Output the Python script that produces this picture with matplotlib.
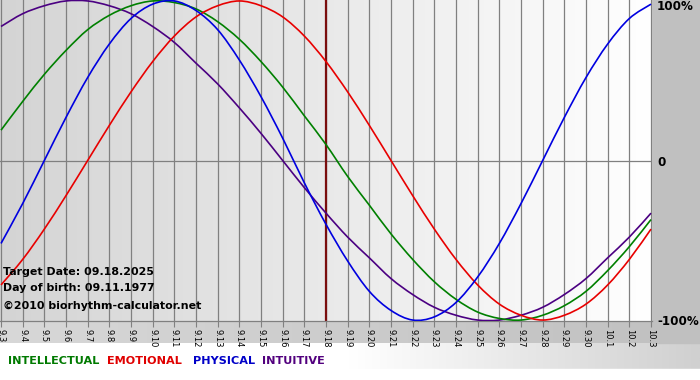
import matplotlib
matplotlib.use("Agg")
import matplotlib.pyplot as plt
import numpy as np
from matplotlib.colors import LinearSegmentedColormap
from matplotlib.path import Path
from matplotlib.patches import PathPatch
import matplotlib.transforms as mtransforms

# ---- data ----
day_labels = ["9.3", "9.4", "9.5", "9.6", "9.7", "9.8", "9.9", "9.10", "9.11", "9.12",
              "9.13", "9.14", "9.15", "9.16", "9.17", "9.18", "9.19", "9.20", "9.21", "9.22",
              "9.23", "9.24", "9.25", "9.26", "9.27", "9.28", "9.29", "9.30", "10.1", "10.2", "10.3"]
physical = [-0.52, -0.27, 0.00, 0.27, 0.52, 0.73, 0.89, 0.98, 1.00, 0.94,
            0.82, 0.63, 0.40, 0.14, -0.14, -0.40, -0.63, -0.82, -0.94, -1.00,
            -0.98, -0.89, -0.73, -0.52, -0.27, 0.00, 0.27, 0.52, 0.73, 0.89, 0.98]
emotional = [-0.78, -0.62, -0.43, -0.22, 0.00, 0.22, 0.43, 0.62, 0.78, 0.90,
             0.97, 1.00, 0.97, 0.90, 0.78, 0.62, 0.43, 0.22, 0.00, -0.22,
             -0.43, -0.62, -0.78, -0.90, -0.97, -1.00, -0.97, -0.90, -0.78, -0.62, -0.43]
intellectual = [0.19, 0.37, 0.54, 0.69, 0.82, 0.91, 0.97, 1.00, 0.99, 0.95,
                0.87, 0.76, 0.62, 0.46, 0.28, 0.10, -0.10, -0.28, -0.46, -0.62,
                -0.76, -0.87, -0.95, -0.99, -1.00, -0.97, -0.91, -0.82, -0.69, -0.54, -0.37]
intuitive = [0.84, 0.92, 0.97, 1.00, 1.00, 0.97, 0.92, 0.84, 0.74, 0.61,
             0.48, 0.33, 0.17, 0.00, -0.17, -0.33, -0.48, -0.61, -0.74, -0.84,
             -0.92, -0.97, -1.00, -1.00, -0.97, -0.92, -0.84, -0.74, -0.61, -0.48, -0.33]
target_label = "9.18"
y_tick_values = [1.0, 0.0, -1.0]
y_tick_labels = ["100%", "0", "-100%"]
info_lines = ["Target Date: 09.18.2025", "Day of birth: 09.11.1977", "\u00a92010 biorhythm-calculator.net"]
legend_words = ["INTELLECTUAL", "EMOTIONAL", "PHYSICAL", "INTUITIVE"]

# ---- styling ----
plt.rcParams['font.family'] = ['DejaVu Sans']
W, H = 700, 380
fig = plt.figure(figsize=(W / 100, H / 100), dpi=100)
fig.patch.set_facecolor("#c4c4c4")

# background of figure
bg = fig.add_axes([0, 0, 1, 1], zorder=0)
bg.set_axis_off()
bg.set_xlim(0, W)
bg.set_ylim(H, 0)
cm_bottom = LinearSegmentedColormap.from_list("b", ["#d8d8d8", "#c0c0c0"])
bg.imshow(np.linspace(0, 1, 256)[None, :], cmap=cm_bottom, aspect="auto",
          extent=(0, W, 343, 321), zorder=0)
bg.add_patch(plt.Rectangle((652, 0), 48, 343, color="#c0c0c0", zorder=1))
cm_leg = LinearSegmentedColormap.from_list("l", ["#ffffff", "#ffffff", "#d0d0d0"])
bg.imshow(np.linspace(0, 1, 256)[None, :], cmap=cm_leg, aspect="auto",
          extent=(0, W, 369, 343), zorder=0)
bg.add_patch(plt.Rectangle((0, 369), W, 11, color="#ffffff", zorder=1))

# main plot area
plot_left, plot_right, plot_top, plot_bottom = 0, 652, 0, 321
ax = fig.add_axes([plot_left / W, 1 - plot_bottom / H, (plot_right - plot_left) / W,
                   (plot_bottom - plot_top) / H], zorder=2)
n = len(day_labels)
x = np.arange(n)
px_per_day = (651 - 1) / (n - 1)
xlim = (-1 / px_per_day, (n - 1) + 1 / px_per_day)
ylim = (-1.006, 1.006)

cm_plot = LinearSegmentedColormap.from_list("p", ["#d4d4d4", "#ffffff"])
ax.imshow(np.linspace(0, 1, 512)[None, :], cmap=cm_plot, aspect="auto",
          extent=(xlim[0], xlim[1], ylim[0], ylim[1]), zorder=0, interpolation="bilinear")
ax.set_xlim(*xlim)
ax.set_ylim(*ylim)

for xi in x:
    ax.axvline(xi, color="#808080", lw=0.9, zorder=1)
ax.axhline(0, color="#808080", lw=0.9, zorder=1)
ax.axvline(day_labels.index(target_label), color="#7a0e0e", lw=1.6, zorder=2)


def smooth_line(xs, ys, color):
    """Draw a smooth curve (Catmull-Rom drawn as cubic Bezier) through the points."""
    P = np.column_stack([xs, ys]).astype(float)
    Pe = np.vstack([P[0], P, P[-1]])
    verts = [tuple(P[0])]
    codes = [Path.MOVETO]
    for i in range(len(P) - 1):
        p0, p1, p2, p3 = Pe[i], Pe[i + 1], Pe[i + 2], Pe[i + 3]
        c1 = p1 + (p2 - p0) / 6.0
        c2 = p2 - (p3 - p1) / 6.0
        verts += [tuple(c1), tuple(c2), tuple(p2)]
        codes += [Path.CURVE4] * 3
    ax.add_patch(PathPatch(Path(verts, codes), facecolor="none", edgecolor=color,
                           lw=1.2, zorder=3))


smooth_line(x, intuitive, "#4b0082")
smooth_line(x, intellectual, "#008000")
smooth_line(x, emotional, "#e80000")
smooth_line(x, physical, "#0000e0")

for s in ["top", "right", "left"]:
    ax.spines[s].set_visible(False)
ax.spines["bottom"].set_color("#808080")
ax.spines["bottom"].set_linewidth(0.9)
ax.set_yticks([])
ax.set_xticks(x)
ax.set_xticklabels(day_labels, rotation=270, fontsize=6.0, color="#000000")
ax.tick_params(axis="x", direction="out", length=4, width=0.8, color="#808080", pad=1.5)
for lab in ax.get_xticklabels():
    lab.set_verticalalignment("top")

# right axis labels
label_offsets_px = [6, 2, 1]
for v, t, off in zip(y_tick_values, y_tick_labels, label_offsets_px):
    tr = ax.get_yaxis_transform() + mtransforms.ScaledTranslation(0, -off / 100, fig.dpi_scale_trans)
    ax.text(1 + 5 / (plot_right - plot_left), v, t, transform=tr,
            ha="left", va="center", fontsize=8.6, fontweight="bold", color="#000000",
            clip_on=False)

# info text
for i, line in enumerate(info_lines):
    ypix = [272, 288, 306][i]
    fig.text(3 / W, 1 - ypix / H, line, ha="left", va="center", fontsize=7.9,
             fontweight="bold", color="#000000", zorder=5)

# legend
leg_colors = ["#007a00", "#e00000", "#0000c8", "#52007e"]
leg_x = [8, 107, 193, 262]
for wtxt, c, lx in zip(legend_words, leg_colors, leg_x):
    fig.text(lx / W, 1 - 361 / H, wtxt, ha="left", va="center", fontsize=8.1,
             fontweight="bold", color=c, zorder=5)

fig.savefig("out.png", dpi=100, facecolor=fig.get_facecolor())
